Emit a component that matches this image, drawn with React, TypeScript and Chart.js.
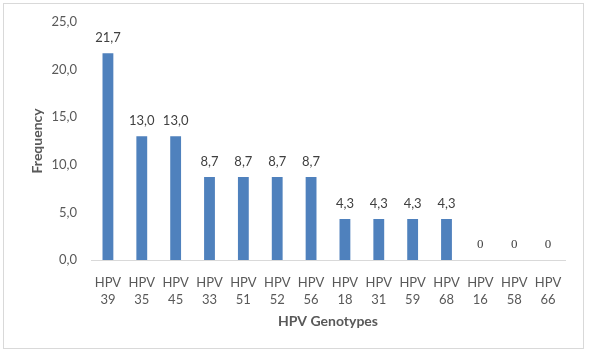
import React, { useEffect, useRef } from "react";
import { Chart, registerables } from "chart.js";

Chart.register(...registerables);

const categories: string[][] = [
  ["HPV", "39"], ["HPV", "35"], ["HPV", "45"], ["HPV", "33"], ["HPV", "51"],
  ["HPV", "52"], ["HPV", "56"], ["HPV", "18"], ["HPV", "31"], ["HPV", "59"],
  ["HPV", "68"], ["HPV", "16"], ["HPV", "58"], ["HPV", "66"],
];
const frequencies: number[] = [21.7, 13.0, 13.0, 8.7, 8.7, 8.7, 8.7, 4.3, 4.3, 4.3, 4.3, 0, 0, 0];
const yTicks: number[] = [0, 5, 10, 15, 20, 25];

const fmt = (v: number) => v.toFixed(1).replace(".", ",");

const dataLabels = {
  id: "dataLabels",
  afterDatasetsDraw(chart: any) {
    const ctx = chart.ctx;
    const meta = chart.getDatasetMeta(0);
    ctx.save();
    ctx.textAlign = "center";
    ctx.textBaseline = "middle";
    meta.data.forEach((bar: any, i: number) => {
      const v = frequencies[i];
      ctx.fillStyle = "#404040";
      if (v === 0) {
        ctx.font = "13px 'Liberation Serif'";
        ctx.fillText("0", bar.x, bar.y - 15);
      } else {
        ctx.font = "13px Lato";
        ctx.fillText(fmt(v), bar.x, bar.y - 15);
      }
    });
    ctx.restore();
  },
};

export default function App() {
  const ref = useRef<HTMLCanvasElement>(null);
  useEffect(() => {
    if (!ref.current) return;
    const chart = new Chart(ref.current, {
      type: "bar",
      data: {
        labels: categories,
        datasets: [
          {
            data: frequencies,
            backgroundColor: "#4F81BD",
            barPercentage: 0.32,
            categoryPercentage: 1,
          },
        ],
      },
      options: {
        responsive: false,
        animation: false,
        layout: { padding: { top: 21, right: 27, bottom: 0, left: 0 } },
        plugins: { legend: { display: false }, tooltip: { enabled: false } },
        scales: {
          x: {
            grid: { display: false, drawTicks: false },
            border: { display: true, color: "#d9d9d9", width: 1 },
            ticks: {
              color: "#595959",
              font: { family: "Lato", size: 13, lineHeight: 1.3 },
              padding: 14,
              maxRotation: 0,
              autoSkip: false,
            },
            title: {
              display: true,
              text: "HPV Genotypes",
              color: "#595959",
              font: { family: "Lato", size: 14, weight: "bold" },
              padding: { top: 0, bottom: 29 },
            },
            afterFit: (s: any) => {
              s.height = 99;
            },
          },
          y: {
            min: 0,
            max: 25,
            afterBuildTicks: (s: any) => {
              s.ticks = yTicks.map((v) => ({ value: v }));
            },
            grid: { display: false, drawTicks: false },
            border: { display: false },
            ticks: {
              color: "#595959",
              font: { family: "Lato", size: 13 },
              padding: 14,
              callback: (v: any) => fmt(Number(v)),
            },
            title: {
              display: true,
              text: "Frequency",
              color: "#595959",
              font: { family: "Lato", size: 14, weight: "bold" },
              padding: { top: 29, bottom: 0 },
            },
            afterFit: (s: any) => {
              s.width = 91;
            },
          },
        },
      },
      plugins: [dataLabels],
    });
    return () => chart.destroy();
  }, []);
  return (
    <div style={{ position: "fixed", left: 0, top: 0, width: 592, height: 359, background: "#fff" }}>
      <div
        style={{
          position: "absolute",
          left: 3,
          top: 3,
          width: 579,
          height: 344,
          border: "1px solid #d9d9d9",
        }}
      />
      <canvas ref={ref} width={592} height={359} style={{ position: "absolute", left: 0, top: 0 }} />
    </div>
  );
}
